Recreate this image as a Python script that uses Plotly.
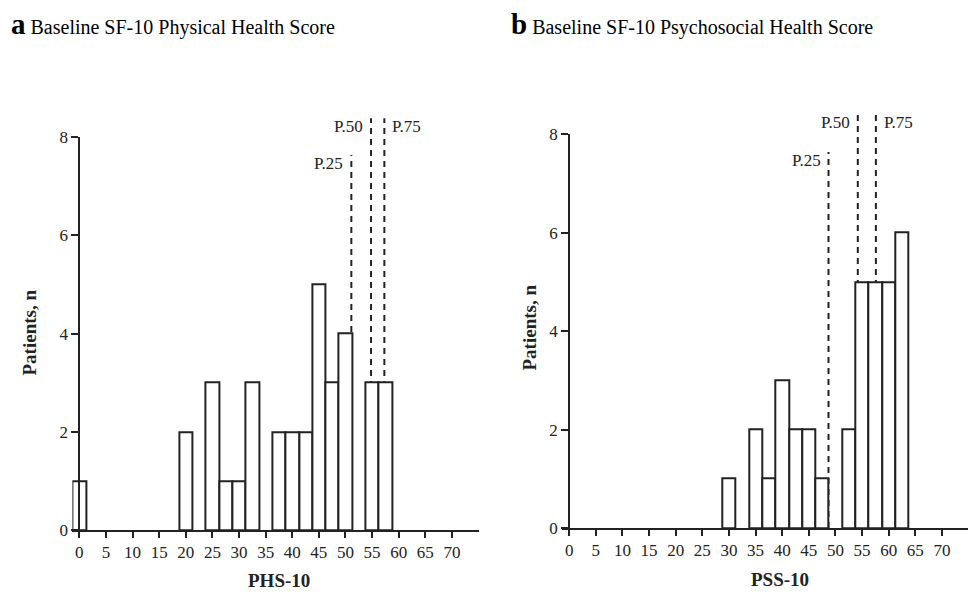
import plotly.graph_objects as go

# ---- data ----
phs_bins = [0, 20, 25, 27.5, 30, 32.5, 37.5, 40, 42.5, 45, 47.5, 50, 55, 57.5]
phs_counts = [1, 2, 3, 1, 1, 3, 2, 2, 2, 5, 3, 4, 3, 3]
pss_bins = [30, 35, 37.5, 40, 42.5, 45, 47.5, 52.5, 55, 57.5, 60, 62.5]
pss_counts = [1, 2, 1, 3, 2, 2, 1, 2, 5, 5, 5, 6]
bin_width = 2.5

percentile_labels = ["P.25", "P.50", "P.75"]
phs_percentiles = [51.1, 54.8, 57.3]
pss_percentiles = [48.7, 54.2, 57.6]
line_tops = [7.64, 8.39, 8.39]
label_y = [7.47, 8.23, 8.23]

x_ticks = list(range(0, 75, 5))
y_ticks = [0, 2, 4, 6, 8]

FONT = "Liberation Serif"
INK = "#222222"
W, H = 968, 592

# y domains (paper) of the two panels
Y_DOM = {"y": [1 - 530 / H, 1 - 137.3 / H], "y2": [1 - 528 / H, 1 - 134.3 / H]}


def y_paper(yref, v):
    d0, d1 = Y_DOM[yref]
    return d0 + (d1 - d0) * v / 8.0


fig = go.Figure()
fig.add_trace(go.Bar(x=phs_bins, y=phs_counts, width=bin_width,
                     marker=dict(color="white", line=dict(color=INK, width=2)),
                     xaxis="x", yaxis="y", showlegend=False))
fig.add_trace(go.Bar(x=pss_bins, y=pss_counts, width=bin_width,
                     marker=dict(color="white", line=dict(color=INK, width=2)),
                     xaxis="x2", yaxis="y2", showlegend=False))

axis_common = dict(showgrid=False, zeroline=False, showline=True, linecolor=INK, linewidth=2,
                   ticks="outside", tickwidth=2, tickcolor=INK, automargin=False,
                   tickfont=dict(family=FONT, size=17, color=INK))

fig.update_layout(
    template="none",
    width=W, height=H, autosize=False,
    margin=dict(l=0, r=0, t=0, b=0, pad=0, autoexpand=False),
    paper_bgcolor="white", plot_bgcolor="white",
    bargap=0, hovermode=False,
    xaxis=dict(domain=[72.4 / W, 479.1 / W], range=[-1.3, 75.1], anchor="y",
               tickvals=x_ticks, ticklen=6, **axis_common),
    yaxis=dict(domain=Y_DOM["y"], range=[0, 8], anchor="free",
               position=79.3 / W, tickvals=y_ticks, ticklen=7, **axis_common),
    xaxis2=dict(domain=[562.3 / W, 1.0], range=[-1.3, 74.9], anchor="y2",
                tickvals=x_ticks, ticklen=6, **axis_common),
    yaxis2=dict(domain=Y_DOM["y2"], range=[0, 8], anchor="free",
                position=569.2 / W, tickvals=y_ticks, ticklen=7, **axis_common),
)

annotations = []
shapes = []
for xr, yr, pcts in (("x", "y", phs_percentiles), ("x2", "y2", pss_percentiles)):
    for lab, px, top, ly in zip(percentile_labels, pcts, line_tops, label_y):
        shapes.append(dict(type="line", xref=xr, yref="paper", x0=px, x1=px,
                           y0=y_paper(yr, 0), y1=y_paper(yr, top),
                           line=dict(color=INK, width=2, dash="6px,5px"), layer="below"))
        right = lab == "P.75"
        annotations.append(dict(xref=xr, yref="paper", x=px, y=y_paper(yr, ly), text=lab,
                                showarrow=False,
                                xanchor="left" if right else "right",
                                xshift=6 if right else -6, yanchor="middle",
                                font=dict(family=FONT, size=17, color=INK)))

# panel titles
annotations.append(dict(xref="paper", yref="paper", x=9 / W, y=1 - 24 / H,
                        xanchor="left", yanchor="middle", showarrow=False,
                        text="<b><span style='font-size:29px'>a</span></b> Baseline SF-10 Physical Health Score",
                        font=dict(family=FONT, size=20, color="black")))
annotations.append(dict(xref="paper", yref="paper", x=509 / W, y=1 - 24 / H,
                        xanchor="left", yanchor="middle", showarrow=False,
                        text="<b><span style='font-size:29px'>b</span></b> Baseline SF-10 Psychosocial Health Score",
                        font=dict(family=FONT, size=20, color="black")))

# axis titles
annotations.append(dict(xref="paper", yref="paper", x=279 / W, y=1 - 580 / H,
                        xanchor="center", yanchor="middle", showarrow=False, borderpad=0,
                        text="<b>PHS-10</b>", font=dict(family=FONT, size=19, color=INK)))
annotations.append(dict(xref="paper", yref="paper", x=780 / W, y=1 - 579.5 / H,
                        xanchor="center", yanchor="middle", showarrow=False, borderpad=0,
                        text="<b>PSS-10</b>", font=dict(family=FONT, size=19, color=INK)))
annotations.append(dict(xref="paper", yref="paper", x=28.5 / W, y=1 - 333 / H,
                        xanchor="center", yanchor="middle", showarrow=False, textangle=-90,
                        text="<b>Patients, n</b>", font=dict(family=FONT, size=19, color=INK)))
annotations.append(dict(xref="paper", yref="paper", x=528.5 / W, y=1 - 328 / H,
                        xanchor="center", yanchor="middle", showarrow=False, textangle=-90,
                        text="<b>Patients, n</b>", font=dict(family=FONT, size=19, color=INK)))

fig.update_layout(annotations=annotations, shapes=shapes)
fig.write_html("out.html", config={"displayModeBar": False},
               post_script="document.body.style.margin='0';document.body.style.overflow='hidden';")
